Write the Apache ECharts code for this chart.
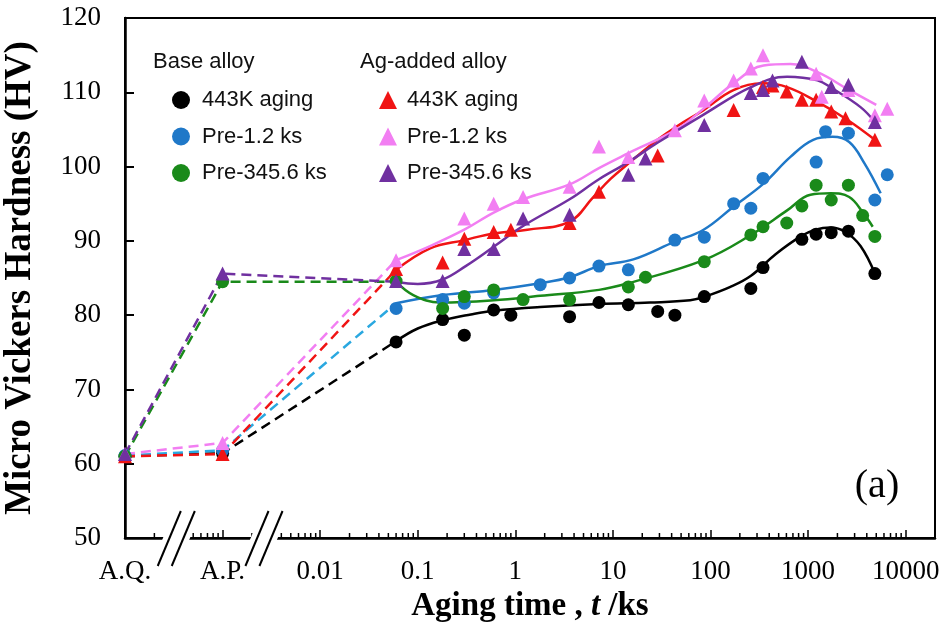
<!DOCTYPE html>
<html><head><meta charset="utf-8">
<script src="https://cdn.jsdelivr.net/npm/echarts@6/dist/echarts.min.js"></script>
<style>html,body{margin:0;padding:0;background:#fff}#c{width:947px;height:632px}</style>
</head><body><div id="c"></div>
<script>
// Positions of the untimed states on the log time axis (ks)
const AQ_T = 0.0001, AP_T = 0.001;
const xTickExp = [-4, -3, -2, -1, 0, 1, 2, 3, 4];
const xTickLabels = ['A.Q.', 'A.P.', '0.01', '0.1', '1', '10', '100', '1000', '10000'];
const xBreaks = [0.000337, 0.00267];   // where the axis is broken (//)

// ---- Base alloy, 443K aging (black) ----
const baseAgingT  = [0.06, 0.18, 0.3, 0.6, 0.9, 3.6, 7.2, 14.4, 28.8, 43.2, 86.4, 259.2, 345.6, 864, 1209.6, 1728, 2592, 4838.4];
const baseAgingHV = [76.4, 79.4, 77.3, 80.7, 80.0, 79.8, 81.7, 81.4, 80.5, 80.0, 82.5, 83.6, 86.4, 90.2, 90.9, 91.1, 91.3, 85.6];
const baseAgingAQAP = [61.0, 61.4];
const baseAgingFitT  = [0.06, 0.1, 0.18, 0.35, 0.6, 1.8, 7.2, 24, 62, 88, 160, 260, 465, 840, 1190, 1700, 2420, 3450, 4840];
const baseAgingFitHV = [76.5, 78.2, 79.3, 80.1, 80.6, 81.1, 81.5, 81.7, 82.0, 82.5, 83.8, 85.3, 88.2, 90.6, 91.5, 91.8, 91.2, 89.3, 85.6];

// ---- Base alloy, Pre-1.2 ks (blue) ----
const basePre12T  = [0.06, 0.18, 0.3, 0.6, 1.8, 3.6, 7.2, 14.4, 43.2, 86.4, 172.8, 259.2, 345.6, 1209.6, 1512, 2592, 4838.4, 6480];
const basePre12HV = [80.9, 82.1, 81.6, 83.0, 84.1, 85.0, 86.6, 86.1, 90.1, 90.5, 95.0, 94.4, 98.4, 100.6, 104.7, 104.5, 95.5, 98.9];
const basePre12AQAP = [61.1, 61.8];
const basePre12FitT  = [0.06, 0.18, 0.6, 1.8, 3.6, 7.2, 16.2, 43, 85, 172, 350, 660, 1130, 1780, 2640, 3800, 5550];
const basePre12FitHV = [81.6, 82.7, 83.4, 84.3, 85.1, 86.6, 87.5, 89.9, 91.5, 94.6, 97.7, 101.3, 103.6, 104.0, 103.3, 100.4, 96.4];

// ---- Base alloy, Pre-345.6 ks (green) ----
const basePre345T  = [0.06, 0.18, 0.3, 0.6, 1.2, 3.6, 14.4, 21.6, 86.4, 259.2, 345.6, 604.8, 864, 1209.6, 1728, 2592, 3628.8, 4838.4];
const basePre345HV = [84.6, 80.9, 82.5, 83.4, 82.1, 82.1, 83.8, 85.1, 87.2, 90.8, 91.9, 92.4, 94.7, 97.5, 95.5, 97.5, 93.4, 90.6];
const basePre345AQAP = [61.0, 84.5];
const basePre345FitT  = [0.06, 0.09, 0.17, 0.6, 1.8, 7.2, 14.4, 85, 260, 610, 1060, 1700, 2640, 3700, 4600];
const basePre345FitHV = [84.5, 82.7, 81.7, 82.0, 82.6, 83.4, 84.3, 87.4, 90.8, 94.1, 96.2, 96.4, 95.9, 93.7, 91.9];

// ---- Ag-added alloy, 443K aging (red) ----
const agAgingT  = [0.06, 0.18, 0.3, 0.6, 0.9, 3.6, 7.2, 28.8, 172.8, 345.6, 432, 604.8, 864, 1209.6, 1728, 2419.2, 4838.4];
const agAgingHV = [86.2, 87.1, 90.3, 91.2, 91.5, 92.4, 96.6, 101.5, 107.6, 110.7, 110.9, 110.1, 109.0, 109.0, 107.4, 106.5, 103.6];
const agAgingAQAP = [61.0, 61.3];
const agAgingFitT  = [0.06, 0.134, 0.3, 0.6, 1.33, 3.6, 6.3, 9.4, 14.4, 28.6, 45, 85, 172, 350, 610, 1250, 2520, 4840];
const agAgingFitHV = [86.1, 89.0, 90.1, 91.0, 91.5, 92.6, 95.9, 98.3, 100.4, 103.6, 105.4, 107.6, 110.3, 111.2, 110.7, 108.7, 106.3, 103.6];

// ---- Ag-added alloy, Pre-1.2 ks (pink) ----
const agPre12T  = [0.06, 0.3, 0.6, 1.2, 3.6, 7.2, 14.4, 43.2, 86.4, 172.8, 259.2, 345.6, 1209.6, 1382.4, 2592, 4838.4, 6480];
const agPre12HV = [87.4, 93.0, 95.0, 95.9, 97.3, 102.7, 101.3, 104.9, 108.9, 111.6, 113.2, 115.0, 112.5, 109.4, 110.3, 106.9, 107.8];
const agPre12AQAP = [61.3, 62.8];
const agPre12FitT  = [0.06, 0.134, 0.3, 0.6, 1.2, 3.6, 7.2, 14.4, 45, 85, 172, 350, 660, 1250, 2640, 5000];
const agPre12FitHV = [87.4, 89.3, 91.5, 93.8, 95.6, 97.6, 99.8, 101.8, 105.0, 107.8, 111.2, 113.6, 113.8, 112.7, 110.3, 108.3];

// ---- Ag-added alloy, Pre-345.6 ks (purple) ----
const agPre345T  = [0.06, 0.18, 0.3, 0.6, 1.2, 3.6, 14.4, 21.6, 86.4, 259.2, 345.6, 432, 864, 1728, 2592, 4838.4];
const agPre345HV = [84.6, 84.6, 88.9, 88.9, 93.0, 93.5, 98.9, 101.1, 105.6, 109.9, 110.3, 111.6, 114.1, 110.7, 111.0, 106.0];
const agPre345AQAP = [61.3, 85.6];
const agPre345FitT  = [0.06, 0.1, 0.18, 0.31, 0.6, 1.2, 3.6, 7.2, 14.4, 28.6, 85, 260, 610, 1250, 1780, 3450, 4840];
const agPre345FitHV = [84.5, 84.2, 84.8, 86.6, 89.2, 92.0, 95.6, 98.3, 100.6, 103.2, 107.0, 110.7, 112.1, 111.6, 110.5, 108.0, 106.0];

const groups = [
  {name: 'Base 443K aging',   sym: 'circle',   size: 13, color: '#000000', dash: '#000000', t: baseAgingT, hv: baseAgingHV, aqap: baseAgingAQAP, ft: baseAgingFitT, fhv: baseAgingFitHV},
  {name: 'Base Pre-1.2 ks',   sym: 'circle',   size: 13, color: '#1f78c8', dash: '#2aa8e0', t: basePre12T, hv: basePre12HV, aqap: basePre12AQAP, ft: basePre12FitT, fhv: basePre12FitHV},
  {name: 'Base Pre-345.6 ks', sym: 'circle',   size: 13, color: '#1a8a1a', dash: '#1a8a1a', t: basePre345T, hv: basePre345HV, aqap: basePre345AQAP, ft: basePre345FitT, fhv: basePre345FitHV},
  {name: 'Ag 443K aging',     sym: 'triangle', size: 14, color: '#f01414', dash: '#f01414', t: agAgingT, hv: agAgingHV, aqap: agAgingAQAP, ft: agAgingFitT, fhv: agAgingFitHV},
  {name: 'Ag Pre-1.2 ks',     sym: 'triangle', size: 14, color: '#f27ef2', dash: '#f27ef2', t: agPre12T, hv: agPre12HV, aqap: agPre12AQAP, ft: agPre12FitT, fhv: agPre12FitHV},
  {name: 'Ag Pre-345.6 ks',   sym: 'triangle', size: 14, color: '#7030a0', dash: '#7030a0', t: agPre345T, hv: agPre345HV, aqap: agPre345AQAP, ft: agPre345FitT, fhv: agPre345FitHV}
];

const zip = (a, b) => a.map((v, i) => [v, b[i]]);
const serif = 'Liberation Serif, Times New Roman, serif';
const sans = 'Liberation Sans, Arial, sans-serif';

// log minor tick positions (2..9 in each decade)
const minorTicks = [];
xTickExp.forEach(e => { for (let m = 2; m <= 9; m++) { const v = m * Math.pow(10, e); if (v <= 20000) minorTicks.push([v, 50]); } });

const series = [];
groups.forEach((g, gi) => {
  series.push({
    type: 'line', name: g.name + ' dashed', silent: true, z: 2,
    data: [[AQ_T, g.aqap[0]], [AP_T, g.aqap[1]], [g.ft[0], g.fhv[0]]],
    showSymbol: false, lineStyle: {color: g.dash, width: 2.5, type: [10, 6]},
    markLine: gi === 0 ? {silent: true, symbol: 'none', label: {show: false},
      lineStyle: {color: '#666', width: 1, type: [1.5, 2]}, data: [{xAxis: AP_T}]} : undefined
  });
  series.push({
    type: 'line', name: g.name + ' fit', silent: true, z: 2, smooth: 0.4,
    data: zip(g.ft, g.fhv), showSymbol: false,
    lineStyle: {color: g.color, width: 2.5}
  });
});
groups.forEach(g => {
  series.push({
    type: 'scatter', name: g.name, z: 3, symbol: g.sym, symbolSize: g.size,
    itemStyle: {color: g.color, opacity: 1},
    data: [[AQ_T, g.aqap[0]], [AP_T, g.aqap[1]]].concat(zip(g.t, g.hv))
  });
});
series.push({
  type: 'custom', name: 'minor ticks', silent: true, z: 5, clip: false,
  renderItem: (params, api) => {
    const p = api.coord([api.value(0), api.value(1)]);
    return {type: 'line', shape: {x1: p[0], y1: p[1] - 1, x2: p[0], y2: p[1] - 5}, style: {stroke: '#000', lineWidth: 1.5}};
  },
  data: minorTicks
});

const legendBase = {
  orient: 'vertical', itemWidth: 18, itemHeight: 18, itemGap: 14.5, selectedMode: false,
  formatter: n => n.replace(/^(Base|Ag) /, ''),
  textStyle: {fontFamily: sans, fontSize: 22, color: '#111', lineHeight: 22}
};

const chart = echarts.init(document.getElementById('c'), null, {renderer: 'canvas'});
chart.setOption({
  animation: false,
  backgroundColor: '#fff',
  grid: {left: 125, right: 12, top: 18, bottom: 94, show: true, borderColor: '#000', borderWidth: 2, outerBoundsMode: 'none'},
  legend: [
    Object.assign({}, legendBase, {left: 167, top: 84, data: groups.slice(0, 3).map(g => g.name), textStyle: Object.assign({}, legendBase.textStyle, {padding: [0, 0, 0, 7]})}),
    Object.assign({}, legendBase, {left: 374, top: 84, data: groups.slice(3).map(g => g.name), textStyle: Object.assign({}, legendBase.textStyle, {padding: [0, 0, 0, 5]})})
  ],
  xAxis: {
    type: 'log', logBase: 10, min: AQ_T, max: 20000, splitNumber: 8,
    name: '{b|Aging time , }{i|t}{b| /ks}', nameLocation: 'middle', nameGap: 52,
    nameTextStyle: {rich: {
      b: {fontFamily: serif, fontWeight: 'bold', fontSize: 33, color: '#000'},
      i: {fontFamily: serif, fontWeight: 'bold', fontStyle: 'italic', fontSize: 33, color: '#000'}
    }},
    axisLine: {lineStyle: {color: '#000', width: 2.5}},
    axisTick: {inside: true, length: 8, lineStyle: {color: '#000', width: 1.5}},
    splitLine: {show: false},
    axisLabel: {
      fontFamily: serif, fontSize: 27, color: '#000', margin: 20,
      formatter: v => { const e = Math.log10(v); const r = Math.round(e); if (Math.abs(e - r) > 1e-6) return ''; const i = xTickExp.indexOf(r); return i < 0 ? '' : xTickLabels[i]; }
    }
  },
  yAxis: {
    type: 'value', min: 50, max: 120, interval: 10,
    name: 'Micro Vickers Hardness (HV)', nameLocation: 'middle', nameGap: 86,
    nameTextStyle: {fontFamily: serif, fontWeight: 'bold', fontSize: 37, color: '#000'},
    axisLine: {show: true, lineStyle: {color: '#000', width: 2.5}},
    axisTick: {inside: true, length: 9, lineStyle: {color: '#000', width: 2}},
    splitLine: {show: false},
    axisLabel: {fontFamily: serif, fontSize: 27, color: '#000', margin: 24}
  },
  series: series
});

// decorations: legend headers, panel tag, axis break marks
const y0 = chart.convertToPixel({yAxisIndex: 0}, 50);
const graphics = [
  {type: 'text', left: 153, top: 51, style: {text: 'Base alloy', font: '22px ' + sans, fill: '#111'}},
  {type: 'text', left: 360, top: 51, style: {text: 'Ag-added alloy', font: '22px ' + sans, fill: '#111'}},
  {type: 'text', x: 877, y: 486, style: {text: '(a)', font: '40px ' + serif, fill: '#000', align: 'center', verticalAlign: 'middle'}}
];
const k = 0.42;
xBreaks.forEach(bt => {
  const cx = chart.convertToPixel({xAxisIndex: 0}, bt);
  const xl = cx - 13.5, xr = cx + 13.5;
  graphics.push({type: 'polygon', z: 100, shape: {points: [[xl + 10 * k, y0 - 10], [xr + 10 * k, y0 - 10], [xr - 4 * k, y0 + 4], [xl - 4 * k, y0 + 4]]}, style: {fill: '#fff'}});
  [-7, 7].forEach(d => {
    const xc = cx + d;
    graphics.push({type: 'line', z: 101, shape: {x1: xc - 28 * k, y1: y0 + 28, x2: xc + 27 * k, y2: y0 - 27}, style: {stroke: '#000', lineWidth: 2}});
  });
});
chart.setOption({graphic: graphics});
</script>
</body></html>
